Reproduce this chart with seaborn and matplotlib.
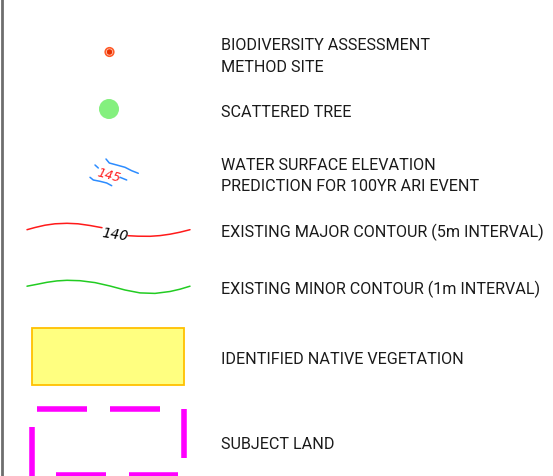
import numpy as np
import pandas as pd
import matplotlib
matplotlib.use("Agg")
import matplotlib.pyplot as plt
import seaborn as sns
from matplotlib.patches import Circle, Rectangle

# legend entries (text, in drawing order)
labels = [
    "BIODIVERSITY ASSESSMENT\nMETHOD SITE",
    "SCATTERED TREE",
    "WATER SURFACE ELEVATION\nPREDICTION FOR 100YR ARI EVENT",
    "EXISTING MAJOR CONTOUR (5m INTERVAL)",
    "EXISTING MINOR CONTOUR (1m INTERVAL)",
    "IDENTIFIED NATIVE VEGETATION",
    "SUBJECT LAND",
]
label_y = [56.5, 112.5, 176.5, 232.5, 289.5, 359.5, 444.5]

# contour labels
water_level = "145"
major_level = "140"

# sample curves (pixel coords)
major_x1 = [27, 35, 45, 55, 67, 78, 90, 102]
major_y1 = [230.7, 228.5, 226.2, 224.8, 224.3, 224.8, 226.5, 228.7]
major_x2 = [128, 138, 150, 160, 170, 180, 190]
major_y2 = [236.7, 237.2, 237.3, 236.6, 235.2, 233.2, 230.7]

minor_x = [27, 37, 47, 57, 67, 80, 95, 110, 125, 140, 155, 170, 180, 190]
minor_y = [287.2, 285.3, 283.3, 281.9, 281.3, 281.7, 283.6, 287.0, 291.0, 293.9, 294.4, 292.5, 290.2, 287.2]

water_lines = [
    ([106, 109.3, 116.7, 125, 131.7, 138.3], [160, 164, 166, 168.3, 171.7, 174.3]),
    ([95, 98.3], [166, 169]),
    ([120, 126.7], [178.3, 181]),
    ([90, 93.3, 100, 106.7, 111.7], [178.3, 181, 182.3, 184, 186.7]),
]

sns.set_theme(style="white")
plt.rcParams["font.family"] = ["Roboto", "DejaVu Sans"]

fig = plt.figure(figsize=(5.53, 4.77), dpi=100)
ax = fig.add_axes([0, 0, 1, 1])
ax.set_xlim(0, 553)
ax.set_ylim(477, 0)
ax.axis("off")

# frame edge on the left
ax.plot([1.5, 1.5], [0, 477], color="#6e6e6e", lw=2)

# BAM site marker
ax.add_patch(Circle((109.5, 53), 4.4, color="#ff5a28", zorder=3))
ax.add_patch(Circle((109.5, 53), 2.9, fill=False, ec="#ffd0c0", lw=0.8, zorder=4))
ax.add_patch(Circle((109.5, 53), 2.0, color="#e83000", zorder=5))

# scattered tree
ax.add_patch(Circle((109, 110), 9.3, color="#84f07e", zorder=3))

# water surface lines
for xs, ys in water_lines:
    sns.lineplot(x=xs, y=ys, ax=ax, color="#2c8cff", lw=1.1, sort=False)
ax.text(108.5, 175.5, water_level, color="#ff2020", fontsize=9, style="italic",
        rotation=-15, ha="center", va="center", family="DejaVu Sans")

# major contour
sns.lineplot(x=major_x1, y=major_y1, ax=ax, color="#ff1a1a", lw=1.1, sort=False)
sns.lineplot(x=major_x2, y=major_y2, ax=ax, color="#ff1a1a", lw=1.1, sort=False)
ax.text(115.5, 235, major_level, color="black", fontsize=10, style="italic",
        rotation=-8, ha="center", va="center", family="DejaVu Sans")

# minor contour
sns.lineplot(x=minor_x, y=minor_y, ax=ax, color="#22cc22", lw=1.1, sort=False)

# native vegetation
ax.add_patch(Rectangle((32.3, 329.3), 151.4, 56.7, fc="#ffff80", ec="#ffc000", lw=1.3))

# subject land dashed boundary
mag = "#ff00ff"
for x0, x1 in [(37, 87), (110, 160)]:
    ax.plot([x0, x1], [410, 410], color=mag, lw=4, solid_capstyle="butt")
for x0, x1 in [(56, 106), (129, 178)]:
    ax.plot([x0, x1], [476, 476], color=mag, lw=4, solid_capstyle="butt")
ax.plot([184, 184], [410, 459], color=mag, lw=4, solid_capstyle="butt")
ax.plot([32, 32], [428, 478], color=mag, lw=4, solid_capstyle="butt")

# legend text
for txt, y in zip(labels, label_y):
    ax.text(221, y, txt, fontsize=11.6, color="#1a1a1a",
            ha="left", va="center", linespacing=1.5)

fig.savefig("out.png", dpi=100)
